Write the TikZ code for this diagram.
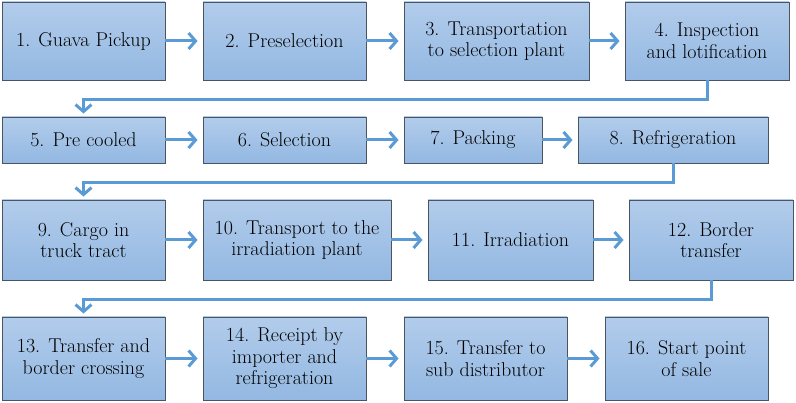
\documentclass[tikz,border=0pt]{standalone}
\usepackage{fontspec}
\usepackage{tikz}
\usetikzlibrary{positioning}
\usetikzlibrary{arrows.meta}
\definecolor{boxtop}{RGB}{178,204,235}
\definecolor{boxbot}{RGB}{147,184,226}
\definecolor{boxline}{RGB}{75,85,98}
\definecolor{flowblue}{RGB}{91,155,213}

\begin{document}
\begin{tikzpicture}[x=1pt,y=-1pt]
\useasboundingbox (0,0) rectangle (796,403);
\begin{scope}[every node/.style={top color=boxtop,bottom color=boxbot,draw=boxline,line width=0.9pt,
              inner sep=0pt,align=center,font=\fontsize{20}{21.5}\selectfont}]
    % first row
    \node[minimum width=163pt,minimum height=78pt] (b1) at (83.5,41) {1. Guava Pickup};
    \node[minimum width=163pt,minimum height=78pt] (b2) at (284.5,41) {2. Preselection};
    \node[minimum width=185pt,minimum height=78pt] (b3) at (496.5,41) {3. Transportation\\to selection plant};
    \node[minimum width=164pt,minimum height=78pt] (b4) at (707,41) {4. Inspection\\and lotification};
    % second row
    \node[minimum width=163pt,minimum height=46pt] (b5) at (83.5,140) {5. Pre cooled};
    \node[minimum width=163pt,minimum height=46pt] (b6) at (284.5,140) {6. Selection};
    \node[minimum width=138pt,minimum height=46pt] (b7) at (473,140) {7. Packing};
    \node[minimum width=190pt,minimum height=46pt] (b8) at (673,140) {8. Refrigeration};
    % third row
    \node[minimum width=163pt,minimum height=80pt] (b9) at (83.5,240) {9. Cargo in\\truck tract};
    \node[minimum width=188pt,minimum height=80pt] (b10) at (297,240) {10. Transport to the\\irradiation plant};
    \node[minimum width=165pt,minimum height=80pt] (b11) at (510.5,240) {11. Irradiation};
    \node[minimum width=164pt,minimum height=80pt] (b12) at (711,240) {12. Border\\transfer};
    % fourth row
    \node[minimum width=163pt,minimum height=83pt] (b13) at (83.5,358.5) {13. Transfer and\\border crossing};
    \node[minimum width=163pt,minimum height=83pt] (b14) at (284.5,358.5) {14. Receipt by\\importer and\\refrigeration};
    \node[minimum width=163pt,minimum height=83pt] (b15) at (485.5,358.5) {15. Transfer to\\sub distributor};
    \node[minimum width=163pt,minimum height=83pt] (b16) at (686.5,358.5) {16. Start point\\of sale};
\end{scope}

\begin{scope}[>={Straight Barb[length=7pt,width=16pt]},
              every path/.style={draw=flowblue,line width=3pt}]
    \path [->,shorten >=5pt] (b1) edge (b2);
    \path [->,shorten >=5pt] (b2) edge (b3);
    \path [->,shorten >=5pt] (b3) edge (b4);
    \path [->,shorten >=5pt] (b5) edge (b6);
    \path [->,shorten >=5pt] (b6) edge (b7);
    \path [->,shorten >=5pt] (b7) edge (b8);
    \path [->,shorten >=5pt] (b9) edge (b10);
    \path [->,shorten >=5pt] (b10) edge (b11);
    \path [->,shorten >=5pt] (b11) edge (b12);
    \path [->,shorten >=5pt] (b13) edge (b14);
    \path [->,shorten >=5pt] (b14) edge (b15);
    \path [->,shorten >=5pt] (b15) edge (b16);
    % row changes
    \draw [->,shorten >=3pt] (b4.south) -- ++(0,19) -| (b5.north);
    \draw [->,shorten >=3pt] (b8.south) -- ++(0,19) -| (b9.north);
    \draw [->,shorten >=3pt] (b12.south) -- ++(0,19) -| (b13.north);
\end{scope}
\end{tikzpicture}
\end{document}
